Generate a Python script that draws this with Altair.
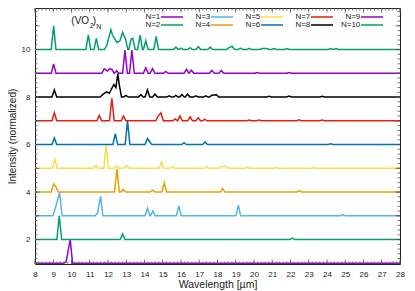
import altair as alt
import pandas as pd
import numpy as np

# ---------------- data ----------------
series_names = ["N=1", "N=2", "N=3", "N=4", "N=5", "N=6", "N=7", "N=8", "N=9", "N=10"]
series_colors = ["#9400D3", "#009E73", "#56B4E9", "#E69F00", "#F0E442",
                 "#0072B2", "#E51E10", "#000000", "#9400D3", "#009E73"]
offsets = [1, 2, 3, 4, 5, 6, 7, 8, 9, 10]

n1_pos = [9.70, 9.93]
n1_h = [0.05, 1.00]
n2_pos = [9.33, 12.80, 22.10]
n2_h = [1.00, 0.24, 0.06]
n3_pos = [9.11, 9.35, 11.43, 11.59, 14.16, 14.46, 15.88, 19.14, 24.87]
n3_h = [0.31, 0.98, 0.12, 0.83, 0.31, 0.20, 0.42, 0.45, 0.05]
n4_pos = [9.02, 9.15, 12.49, 12.83, 14.44, 15.08, 18.28, 22.48]
n4_h = [0.34, 0.22, 0.98, 0.10, 0.08, 0.38, 0.15, 0.06]
n5_pos = [9.09, 11.34, 11.90, 12.47, 13.01, 14.93, 15.53, 17.41, 18.21, 18.45, 19.64, 21.19, 23.29]
n5_h = [0.38, 0.12, 0.98, 0.10, 0.12, 0.26, 0.08, 0.08, 0.08, 0.08, 0.04, 0.03, 0.03]
n6_pos = [9.06, 12.40, 13.07, 14.16, 14.26, 16.17, 17.32, 24.20]
n6_h = [0.28, 0.46, 1.00, 0.25, 0.15, 0.08, 0.11, 0.03]
n7_pos = [9.06, 11.52, 12.21, 12.85, 14.75, 14.90, 15.68, 15.94, 16.50, 16.94, 17.30, 19.73, 20.28, 22.47, 23.74]
n7_h = [0.34, 0.23, 0.95, 0.20, 0.20, 0.34, 0.08, 0.20, 0.17, 0.13, 0.06, 0.03, 0.03, 0.04, 0.03]
n8_pos = [9.06, 11.70, 11.92, 12.07, 12.32, 12.43, 12.54, 12.61, 12.98, 13.80, 14.16, 14.57,
          15.35, 15.72, 16.05, 16.36, 16.81, 17.36, 17.69, 17.94, 20.82, 21.92, 23.74]
n8_h = [0.30, 0.10, 0.22, 0.16, 0.53, 0.40, 0.99, 0.55, 0.07, 0.10, 0.30, 0.12,
        0.05, 0.07, 0.10, 0.12, 0.05, 0.05, 0.08, 0.10, 0.03, 0.04, 0.03]
n9_pos = [9.02, 11.79, 11.97, 12.08, 12.21, 12.47, 12.93, 13.31, 14.07, 14.44, 15.17, 16.30,
          16.57, 17.69, 18.21, 20.18, 21.92]
n9_h = [0.39, 0.19, 0.10, 0.19, 0.17, 0.10, 0.98, 0.98, 0.24, 0.20, 0.08, 0.17,
        0.13, 0.12, 0.12, 0.03, 0.03]
n10_pos = [9.02, 10.92, 11.36, 11.94, 12.16, 12.25, 12.49, 12.65, 12.80, 12.96, 13.27, 13.36,
           13.76, 14.07, 14.64, 15.72, 16.00, 16.50, 16.95, 17.60, 18.63, 18.80, 19.25, 19.74,
           20.45, 20.70, 21.10, 21.80, 24.20, 24.50]
n10_h = [1.00, 0.62, 0.47, 0.19, 0.83, 0.60, 0.30, 0.36, 0.72, 0.44, 0.44, 0.47,
         0.61, 0.37, 0.55, 0.10, 0.06, 0.08, 0.12, 0.10, 0.08, 0.14, 0.06, 0.05,
         0.04, 0.04, 0.04, 0.04, 0.04, 0.04]

all_pos = [n1_pos, n2_pos, n3_pos, n4_pos, n5_pos, n6_pos, n7_pos, n8_pos, n9_pos, n10_pos]
all_h = [n1_h, n2_h, n3_h, n4_h, n5_h, n6_h, n7_h, n8_h, n9_h, n10_h]

x_labels = list(range(8, 29))
y_labels = [2, 4, 6, 8, 10]

# ---------------- build line table ----------------
X_MIN, X_MAX = 8.0, 28.0
Y_MIN, Y_MAX = 0.97, 11.75
HALF = 0.13
W, H = 365, 256

rows = []
for name, off, pos, hts in zip(series_names, offsets, all_pos, all_h):
    pts = [(X_MIN, 0.0), (X_MAX, 0.0)]
    for p, h in zip(pos, hts):
        pts.append((p, h))
        for b in (p - HALF, p + HALF):
            if all(abs(b - q) >= HALF * 0.999 for q in pos if q != p):
                pts.append((b, 0.0))
    pts.sort()
    for k, (x, h) in enumerate(pts):
        rows.append({"series": name, "wl": x, "val": off + h, "k": k})
lines_df = pd.DataFrame(rows)

legend_order = ["N=1", "N=3", "N=5", "N=7", "N=9", "N=2", "N=4", "N=6", "N=8", "N=10"]
legend_colors = [series_colors[series_names.index(s)] for s in legend_order]

xscale = alt.Scale(domain=[X_MIN, X_MAX], nice=False, zero=False)
yscale = alt.Scale(domain=[Y_MIN, Y_MAX], nice=False, zero=False)

FONT = "Liberation Sans"

x_axis = alt.Axis(values=x_labels, ticks=False, domain=False, grid=False,
                  labelFontSize=8, labelPadding=6, labelFont=FONT, labelColor="#222",
                  title="Wavelength [µm]", titleFontSize=10.5, titleFont=FONT,
                  titleFontWeight="normal", titlePadding=1, titleColor="#222",
                  labelFlush=False)
y_axis = alt.Axis(values=y_labels, ticks=False, domain=False, grid=False,
                  labelFontSize=8, labelPadding=5, labelFont=FONT, labelColor="#222",
                  title="Intensity (normalized)", titleFontSize=10, titleFont=FONT,
                  titleFontWeight="normal", titlePadding=4, titleColor="#222",
                  labelFlush=False)

lines = alt.Chart(lines_df).mark_line(strokeWidth=1.5, clip=True).encode(
    x=alt.X("wl:Q", scale=xscale, axis=x_axis),
    y=alt.Y("val:Q", scale=yscale, axis=y_axis),
    color=alt.Color("series:N",
                    scale=alt.Scale(domain=legend_order, range=legend_colors),
                    legend=alt.Legend(
                        title=None, orient="none", legendX=133, legendY=5,
                        columns=5, direction="horizontal", gridAlign="all",
                        columnPadding=4, rowPadding=0, padding=0,
                        symbolType="M-5,0H5", symbolSize=19.36, symbolStrokeWidth=1.5,
                        labelFontSize=8, labelFont=FONT, labelColor="#222",
                        labelAlign="right", labelOffset={"expr": "-15.7"}, offset=0)),
    detail="series:N",
    order="k:Q",
)

# inward ticks
x_major = list(range(8, 29))
x_minor = [round(v, 2) for v in np.arange(8, 28.001, 0.2)]
y_major = list(range(1, 12))
y_minor = [round(v, 2) for v in np.arange(1, 11.75, 0.2)]

def xticks(vals, ln):
    d = pd.DataFrame({"t": vals})
    b = alt.Chart(d).mark_rule(color="#555", strokeWidth=0.8)
    bot = b.encode(x=alt.X("t:Q", scale=xscale, axis=x_axis), y=alt.value(H), y2=alt.value(H - ln))
    top = b.encode(x=alt.X("t:Q", scale=xscale, axis=x_axis), y=alt.value(0), y2=alt.value(ln))
    return [bot, top]

def yticks(vals, ln):
    d = pd.DataFrame({"t": vals})
    b = alt.Chart(d).mark_rule(color="#555", strokeWidth=0.8)
    lft = b.encode(y=alt.Y("t:Q", scale=yscale, axis=y_axis), x=alt.value(0), x2=alt.value(ln))
    rgt = b.encode(y=alt.Y("t:Q", scale=yscale, axis=y_axis), x=alt.value(W), x2=alt.value(W - ln))
    return [lft, rgt]

tick_layers = xticks(x_minor, 2.5) + xticks(x_major, 4.5) + yticks(y_minor, 2.5) + yticks(y_major, 4.5)

# label "(VO2)N"
lab_main = pd.DataFrame({"x": [9.99], "y": [11.22], "t": ["(VO"]})
lab_sub2 = pd.DataFrame({"x": [11.00], "y": [11.01], "t": ["2"]})
lab_par = pd.DataFrame({"x": [11.17], "y": [11.22], "t": [")"]})
lab_subn = pd.DataFrame({"x": [11.36], "y": [10.93], "t": ["N"]})

def txt(df, size):
    return alt.Chart(df).mark_text(align="left", baseline="middle", font=FONT,
                                   fontSize=size, color="#222").encode(
        x=alt.X("x:Q", scale=xscale, axis=x_axis),
        y=alt.Y("y:Q", scale=yscale, axis=y_axis),
        text="t:N")

texts = [txt(lab_main, 10), txt(lab_sub2, 7), txt(lab_par, 10), txt(lab_subn, 7)]

chart = alt.layer(lines, *tick_layers, *texts).properties(
    width=W, height=H,
    autosize=alt.AutoSizeParams(type="none"),
    padding={"left": 27, "top": 0, "right": 7, "bottom": 27},
).configure_view(stroke="#222", strokeWidth=1)

chart.save("out.html", embed_options={"renderer": "svg", "actions": False})
